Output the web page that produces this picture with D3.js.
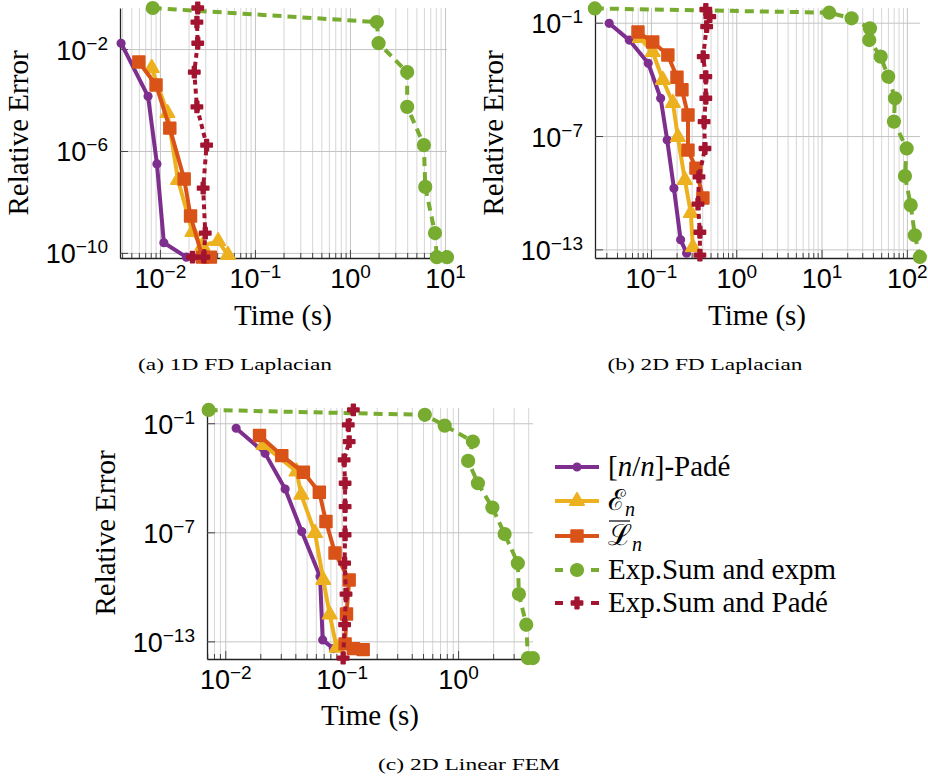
<!DOCTYPE html>
<html>
<head>
<meta charset="utf-8">
<script src="https://cdn.jsdelivr.net/npm/d3@7"></script>
<style>body{margin:0;background:#fff}</style>
</head>
<body>
<script>
// ---- data: [time (s), relative error] ----
// (a) 1D FD Laplacian
var padeA   = [[3.9e-3,1.7e-2],[7.5e-3,1.4e-4],[9.3e-3,3.1e-7],[1.1e-2,2.5e-10],[1.9e-2,6.8e-11],[2.2e-2,6.8e-11]];
var enA     = [[8.2e-3,1.8e-3],[1.2e-2,3.1e-5],[1.55e-2,7.3e-8],[2.2e-2,6.6e-10],[2.8e-2,1.9e-10],[4.1e-2,2.9e-10],[5.2e-2,8.3e-11]];
var lnA     = [[6.0e-3,3.1e-3],[9.1e-3,3.9e-4],[1.27e-2,7.9e-6],[1.8e-2,7.9e-8],[2.1e-2,2.8e-9],[2.8e-2,6.8e-11],[3.4e-2,6.8e-11]];
var expmA   = [[8.4e-3,0.41],[1.92,0.115],[2.0,1.7e-2],[4.0,1.25e-3],[4.0,5.4e-5],[6.0,1.7e-6],[6.2,3.9e-8],[7.85,6e-10],[8.2,6.8e-11],[10.5,6.8e-11]];
var esPadeA = [[2.5e-2,0.41],[2.45e-2,0.115],[2.5e-2,1.7e-2],[2.3e-2,1.25e-3],[2.45e-2,5.4e-5],[3.1e-2,1.7e-6],[2.85e-2,3.5e-8],[3.0e-2,6e-10],[2.9e-2,6.8e-11],[2.2e-2,6.8e-11]];

// (b) 2D FD Laplacian
var padeB   = [[0.0324,0.093],[0.0557,0.012],[0.093,7.1e-4],[0.13,1.0e-5],[0.155,6.2e-8],[0.186,1.7e-10],[0.223,3.2e-13],[0.262,6.3e-14]];
var enB     = [[0.0743,0.0155],[0.105,2.8e-3],[0.138,9.3e-5],[0.181,5.6e-6],[0.207,8.9e-8],[0.25,4.7e-10],[0.294,8.4e-12],[0.31,1.3e-13]];
var lnB     = [[0.0705,0.032],[0.105,9.5e-3],[0.158,1.96e-3],[0.202,1.3e-4],[0.231,2.8e-5],[0.272,1.3e-6],[0.272,1.8e-8],[0.337,2.0e-9],[0.407,5.3e-11]];
var expmB   = [[0.022,0.57],[12.3,0.34],[22.5,0.17],[36.9,0.05],[36.2,0.012],[49.3,1.6e-3],[60.5,1.4e-4],[72.5,1e-5],[70.6,5.8e-7],[99.5,2.2e-8],[95,7.6e-10],[111,2.2e-11],[124,5.6e-13],[142,4e-14]];
var esPadeB = [[0.44,0.5],[0.49,0.21],[0.45,0.062],[0.41,1.6e-3],[0.44,1.4e-4],[0.44,1e-5],[0.42,5.8e-7],[0.43,2.2e-8],[0.366,6.9e-10],[0.356,2.5e-11],[0.375,8.1e-13],[0.375,5e-14]];

// (c) 2D Linear FEM
var padeC   = [[0.0124,0.053],[0.022,2.2e-3],[0.0327,2.4e-5],[0.0454,1.1e-7],[0.0652,3.7e-10],[0.0687,1.2e-13],[0.0848,4e-14]];
var enC     = [[0.0213,6.4e-3],[0.041,2.2e-4],[0.045,1.15e-5],[0.059,9.1e-8],[0.0695,2.4e-10],[0.079,3e-12],[0.0906,4.4e-14]];
var lnC     = [[0.0197,0.021],[0.0306,1.66e-3],[0.0469,2.0e-4],[0.0643,1.6e-5],[0.0733,3.9e-7],[0.0877,7.2e-9],[0.116,2.4e-10],[0.110,3.2e-12],[0.107,7.3e-14],[0.126,4e-14],[0.153,3.5e-14]];
var expmC   = [[0.0072,0.54],[0.518,0.29],[0.767,0.074],[1.34,9.8e-3],[1.22,8.5e-4],[1.48,5e-5],[1.97,2.3e-6],[2.51,8e-8],[3.26,2e-9],[3.33,4e-11],[3.85,8.3e-13],[3.98,1.2e-14],[4.39,1.2e-14]];
var esPadeC = [[0.126,0.54],[0.114,0.081],[0.116,9.8e-3],[0.105,9.6e-4],[0.107,5e-5],[0.107,2.6e-6],[0.107,7.3e-8],[0.106,2e-9],[0.109,4e-11],[0.106,8.3e-13],[0.103,1.2e-14]];

// ticks
var xTicksA = [1e-2, 1e-1, 1, 10];
var xTicksB = [1e-1, 1, 10, 100];
var xTicksC = [1e-2, 1e-1, 1];
var yTicksA = [1e-2, 1e-6, 1e-10];
var yTicksB = [1e-1, 1e-7, 1e-13];
var yTicksC = [1e-1, 1e-7, 1e-13];

var seriesNames = ["[n/n]-Padé", "En", "Ln", "Exp.Sum and expm", "Exp.Sum and Padé"];
var captions = ["(a) 1D FD Laplacian", "(b) 2D FD Laplacian", "(c) 2D Linear FEM"];

// ---- styles ----
var styles = [
  {color: "#7E2F8E", dash: null,  sym: d3.symbolCircle,   size: 45},
  {color: "#EDB120", dash: null,  sym: d3.symbolTriangle, size: 90},
  {color: "#D95319", dash: null,  sym: d3.symbolSquare,   size: 140},
  {color: "#77AC30", dash: "9,6", sym: d3.symbolCircle,   size: 125},
  {color: "#A2142F", dash: "5,4", sym: d3.symbolCross,    size: 70}
];

var panels = [
  {left: 120, right: 447, top: 8,   bottom: 258, xDom: [3.8e-3, 10.5], yDom: [6.3e-11, 0.41],
   xTicks: xTicksA, yTicks: yTicksA, series: [padeA, enA, lnA, expmA, esPadeA],
   yLab: [28, 133], xLab: [283, 325], cap: [235, 370, 194], caption: captions[0]},
  {left: 595, right: 920, top: 8,   bottom: 258, xDom: [0.0221, 142.6], yDom: [3.5e-14, 0.6],
   xTicks: xTicksB, yTicks: yTicksB, series: [padeB, enB, lnB, expmB, esPadeB],
   yLab: [503, 133], xLab: [757, 325], cap: [705, 370, 195], caption: captions[1]},
  {left: 207, right: 533, top: 408, bottom: 659, xDom: [6.97e-3, 4.4], yDom: [1.07e-14, 0.69],
   xTicks: xTicksC, yTicks: yTicksC, series: [padeC, enC, lnC, expmC, esPadeC],
   yLab: [115, 533], xLab: [370, 725], cap: [469, 770, 182], caption: captions[2]}
];

var svg = d3.select("body").append("svg")
  .attr("width", 928).attr("height", 780)
  .style("font-family", '"Liberation Serif", "DejaVu Serif", serif');

function expLabel(sel, v) {
  var e = Math.round(Math.log10(v));
  sel.append("tspan").text("10");
  sel.append("tspan").attr("dy", -10).attr("font-size", 19).text(String(e).replace("-", "\u2212"));
}

function drawPanel(p) {
  var x = d3.scaleLog().domain(p.xDom).range([p.left, p.right]);
  var y = d3.scaleLog().domain(p.yDom).range([p.bottom, p.top]);
  var h = p.bottom - p.top, w = p.right - p.left;
  var majors = p.xTicks;
  var minors = x.ticks().filter(function (v) {
    var l = Math.log10(v); return Math.abs(l - Math.round(l)) > 1e-6;
  });

  var g = svg.append("g");

  // grid
  g.append("g").attr("transform", `translate(0,${p.bottom})`)
    .call(d3.axisBottom(x).tickValues(minors).tickSize(-h).tickFormat(""))
    .call(function (a) { a.select(".domain").remove(); })
    .selectAll("line").attr("stroke", "#d6d6d6").attr("stroke-width", 1);
  g.append("g").attr("transform", `translate(0,${p.bottom})`)
    .call(d3.axisBottom(x).tickValues(majors).tickSize(-h).tickFormat(""))
    .call(function (a) { a.select(".domain").remove(); })
    .selectAll("line").attr("stroke", "#c4c4c4").attr("stroke-width", 1);
  g.append("g").attr("transform", `translate(${p.left},0)`)
    .call(d3.axisLeft(y).tickValues(p.yTicks).tickSize(-w).tickFormat(""))
    .call(function (a) { a.select(".domain").remove(); })
    .selectAll("line").attr("stroke", "#c4c4c4").attr("stroke-width", 1);

  // tick marks + axis lines
  g.append("g").attr("transform", `translate(0,${p.bottom})`)
    .call(d3.axisBottom(x).tickValues(minors).tickSize(-5).tickSizeOuter(0).tickFormat(""))
    .call(function (a) { a.select(".domain").remove(); })
    .selectAll("line").attr("stroke", "#444");
  var xa = g.append("g").attr("transform", `translate(0,${p.bottom})`)
    .call(d3.axisBottom(x).tickValues(majors).tickSize(-8).tickSizeOuter(0).tickFormat(""));
  xa.select(".domain").attr("stroke", "#222").attr("stroke-width", 1.3);
  xa.selectAll(".tick line").attr("stroke", "#444");
  xa.selectAll(".tick").append("text")
    .attr("y", 30).attr("fill", "#000").attr("font-size", 27).attr("text-anchor", "middle")
    .each(function (v) { expLabel(d3.select(this), v); });

  var ya = g.append("g").attr("transform", `translate(${p.left},0)`)
    .call(d3.axisLeft(y).tickValues(p.yTicks).tickSize(-8).tickSizeOuter(0).tickFormat(""));
  ya.select(".domain").attr("stroke", "#222").attr("stroke-width", 1.3);
  ya.selectAll(".tick line").attr("stroke", "#444");
  ya.selectAll(".tick").append("text")
    .attr("x", -12).attr("y", 10).attr("fill", "#000").attr("font-size", 27).attr("text-anchor", "end")
    .each(function (v) { expLabel(d3.select(this), v); });

  // axis titles
  g.append("text").attr("transform", `translate(${p.yLab[0]},${p.yLab[1]}) rotate(-90)`)
    .attr("text-anchor", "middle").attr("font-size", 29).text("Relative Error");
  g.append("text").attr("x", p.xLab[0]).attr("y", p.xLab[1])
    .attr("text-anchor", "middle").attr("font-size", 29).text("Time (s)");

  // series
  var line = d3.line().x(function (d) { return x(d[0]); }).y(function (d) { return y(d[1]); });
  p.series.forEach(function (data, i) {
    var s = styles[i];
    g.append("path").datum(data).attr("d", line)
      .attr("fill", "none").attr("stroke", s.color).attr("stroke-width", 4)
      .attr("stroke-linejoin", "round")
      .attr("stroke-dasharray", s.dash);
    g.selectAll(null).data(data).enter().append("path")
      .attr("transform", function (d) { return `translate(${x(d[0])},${y(d[1])})`; })
      .attr("d", d3.symbol().type(s.sym).size(s.size))
      .attr("fill", s.color).attr("stroke", s.color).attr("stroke-width", 1.6)
      .attr("stroke-linejoin", "round");
  });

  // caption
  svg.append("text").attr("x", p.cap[0]).attr("y", p.cap[1])
    .attr("text-anchor", "middle").attr("font-size", 17)
    .attr("textLength", p.cap[2]).attr("lengthAdjust", "spacingAndGlyphs")
    .text(p.caption);
}

panels.forEach(drawPanel);

// legend
var legRows = [467, 501, 536, 570, 603];
var leg = svg.append("g");
styles.forEach(function (s, i) {
  var ry = legRows[i];
  leg.append("line").attr("x1", 555).attr("x2", 599).attr("y1", ry).attr("y2", ry)
    .attr("stroke", s.color).attr("stroke-width", 4)
    .attr("stroke-dasharray", s.dash ? "8,28" : null);
  leg.append("path").attr("transform", `translate(577,${ry})`)
    .attr("d", d3.symbol().type(s.sym).size(s.size))
    .attr("fill", s.color).attr("stroke", s.color).attr("stroke-width", 1.6)
    .attr("stroke-linejoin", "round");
  var t = leg.append("text").attr("x", 608).attr("y", ry + 9).attr("font-size", 29);
  if (i === 0) {
    t.append("tspan").text("[");
    t.append("tspan").attr("font-style", "italic").text("n");
    t.append("tspan").text("/");
    t.append("tspan").attr("font-style", "italic").text("n");
    t.append("tspan").text("]-Padé");
  } else if (i === 1) {
    t.append("tspan").text("\u2130");
    t.append("tspan").attr("dy", 6).attr("font-size", 20).attr("font-style", "italic").text("n");
  } else if (i === 2) {
    t.append("tspan").text("\u2112");
    t.append("tspan").attr("dy", 6).attr("font-size", 20).attr("font-style", "italic").text("n");
    leg.append("line").attr("x1", 609).attr("x2", 630).attr("y1", ry - 15).attr("y2", ry - 15)
      .attr("stroke", "#000").attr("stroke-width", 1.2);
  } else {
    t.text(seriesNames[i]);
  }
});
</script>
</body>
</html>
